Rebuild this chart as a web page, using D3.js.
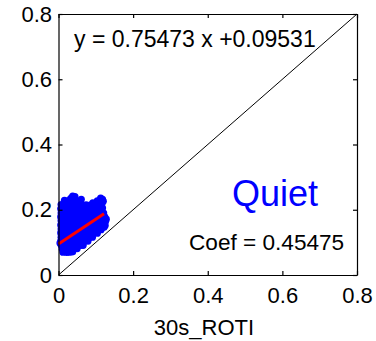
<!DOCTYPE html>
<html>
<head>
<meta charset="utf-8">
<script src="https://cdn.jsdelivr.net/npm/d3@7/dist/d3.min.js"></script>
<style>
  html, body { margin: 0; padding: 0; background: #fff; }
  svg { display: block; }
  text { font-family: "Liberation Sans", Arial, sans-serif; fill: #000; }
</style>
</head>
<body>
<svg id="chart" width="376" height="341"></svg>
<script>
// 30 s ROTI samples (x) against the compared index (y), quiet period
const roti30 = [
  0.038, 0.044, 0.113, 0.118,
  0.016, 0.027, 0.037, 0.047, 0.055, 0.104, 0.114, 0.120,
  0.007, 0.018, 0.030, 0.041, 0.052, 0.063, 0.074, 0.085, 0.095, 0.106, 0.116,
  0.006, 0.017, 0.028, 0.039, 0.050, 0.061, 0.072, 0.083, 0.094, 0.105, 0.118,
  0.007, 0.018, 0.029, 0.040, 0.051, 0.062, 0.073, 0.084, 0.095, 0.106, 0.121,
  0.006, 0.017, 0.028, 0.039, 0.050, 0.061, 0.072, 0.083, 0.094, 0.105, 0.116, 0.124,
  0.007, 0.018, 0.029, 0.040, 0.051, 0.062, 0.073, 0.084, 0.095, 0.106, 0.117, 0.126,
  0.006, 0.017, 0.028, 0.039, 0.050, 0.061, 0.072, 0.083, 0.094, 0.105, 0.116, 0.125,
  0.007, 0.018, 0.029, 0.040, 0.051, 0.062, 0.073, 0.084, 0.095, 0.105, 0.114,
  0.006, 0.017, 0.028, 0.039, 0.050, 0.061, 0.072, 0.083, 0.094, 0.104,
  0.007, 0.018, 0.029, 0.040, 0.051, 0.062, 0.073, 0.083, 0.091,
  0.006, 0.017, 0.028, 0.039, 0.050, 0.061, 0.071, 0.079,
  0.007, 0.018, 0.029, 0.040, 0.051, 0.060, 0.066,
  0.010, 0.020, 0.031, 0.042, 0.050,
  0.012, 0.022, 0.030, 0.038,
  0.033, 0.061, 0.092, 0.128, 0.122, 0.004
];
const quietIndex = [
  0.242, 0.240, 0.236, 0.232,
  0.229, 0.228, 0.228, 0.226, 0.225, 0.227, 0.229, 0.226,
  0.216, 0.215, 0.216, 0.214, 0.215, 0.216, 0.215, 0.214, 0.215, 0.216, 0.217,
  0.203, 0.202, 0.204, 0.203, 0.202, 0.203, 0.204, 0.202, 0.203, 0.204, 0.205,
  0.190, 0.191, 0.190, 0.189, 0.190, 0.191, 0.190, 0.189, 0.190, 0.191, 0.190,
  0.178, 0.177, 0.178, 0.179, 0.178, 0.177, 0.178, 0.179, 0.178, 0.177, 0.178, 0.178,
  0.166, 0.165, 0.166, 0.167, 0.166, 0.165, 0.166, 0.167, 0.166, 0.165, 0.166, 0.165,
  0.153, 0.154, 0.153, 0.152, 0.153, 0.154, 0.153, 0.152, 0.153, 0.154, 0.152, 0.152,
  0.141, 0.140, 0.141, 0.142, 0.141, 0.140, 0.141, 0.142, 0.141, 0.140, 0.139,
  0.129, 0.128, 0.129, 0.130, 0.129, 0.128, 0.129, 0.130, 0.129, 0.128,
  0.116, 0.117, 0.116, 0.115, 0.116, 0.117, 0.116, 0.115, 0.116,
  0.104, 0.103, 0.104, 0.105, 0.104, 0.103, 0.104, 0.104,
  0.092, 0.091, 0.092, 0.093, 0.092, 0.091, 0.091,
  0.080, 0.079, 0.080, 0.081, 0.081,
  0.070, 0.069, 0.070, 0.071,
  0.235, 0.232, 0.221, 0.171, 0.146, 0.098
];

// least-squares fit reported on the chart
const fitSlope = 0.75473;
const fitIntercept = 0.09531;
const fitRange = [0, 0.122];
const coefValue = 0.45475;

const tickValues = [0, 0.2, 0.4, 0.6, 0.8];
const tickLabels = ["0", "0.2", "0.4", "0.6", "0.8"];
const xTitle = "30s_ROTI";
const periodLabel = "Quiet";

const svg = d3.select("#chart");
const plotLeft = 58.5, plotRight = 357, plotTop = 14, plotBottom = 275;

const x = d3.scaleLinear().domain([0, 0.8]).range([plotLeft, plotRight]);
const y = d3.scaleLinear().domain([0, 0.8]).range([plotBottom, plotTop]);

// scatter points
svg.append("g")
  .selectAll("circle")
  .data(roti30.map((v, i) => [v, quietIndex[i]]))
  .join("circle")
  .attr("cx", d => x(d[0]))
  .attr("cy", d => y(d[1]))
  .attr("r", 3.6)
  .attr("fill", "#0000ff");

// regression line
svg.append("line")
  .attr("x1", x(fitRange[0]))
  .attr("y1", y(fitIntercept + fitSlope * fitRange[0]))
  .attr("x2", x(fitRange[1]))
  .attr("y2", y(fitIntercept + fitSlope * fitRange[1]))
  .attr("stroke", "#ff0000")
  .attr("stroke-width", 3);

// 1:1 reference line
svg.append("line")
  .attr("x1", x(0)).attr("y1", y(0))
  .attr("x2", x(0.8)).attr("y2", y(0.8))
  .attr("stroke", "#000")
  .attr("stroke-width", 1);

const fmt = (d) => tickLabels[tickValues.indexOf(d)];

// axes box with inward ticks
const axB = svg.append("g").attr("transform", `translate(0,${plotBottom})`)
  .call(d3.axisBottom(x).tickValues(tickValues).tickFormat(fmt)
    .tickSizeInner(-4).tickSizeOuter(0).tickPadding(12.5));
const axL = svg.append("g").attr("transform", `translate(${plotLeft},0)`)
  .call(d3.axisLeft(y).tickValues(tickValues).tickFormat(fmt)
    .tickSizeInner(-4).tickSizeOuter(0).tickPadding(6.5));
const axT = svg.append("g").attr("transform", `translate(0,${plotTop})`)
  .call(d3.axisTop(x).tickValues(tickValues).tickFormat("")
    .tickSizeInner(-4).tickSizeOuter(0));
const axR = svg.append("g").attr("transform", `translate(${plotRight},0)`)
  .call(d3.axisRight(y).tickValues(tickValues).tickFormat("")
    .tickSizeInner(-4).tickSizeOuter(0));

[axB, axL, axT, axR].forEach(g => {
  g.selectAll("path, line").attr("stroke", "#000").attr("stroke-width", 1.2);
  g.selectAll("text")
    .attr("fill", "#000")
    .style("font-family", "'Liberation Sans', Arial, sans-serif")
    .style("font-size", "22px");
});

// annotations
svg.append("text")
  .attr("x", 74).attr("y", 47)
  .style("font-size", "23px")
  .text(`y = ${fitSlope} x +${fitIntercept}`);

svg.append("text")
  .attr("x", 232).attr("y", 206)
  .style("font-size", "36px")
  .style("fill", "#0000ff")
  .text(periodLabel);

svg.append("text")
  .attr("x", 189).attr("y", 250)
  .style("font-size", "22.6px")
  .text(`Coef = ${coefValue}`);

svg.append("text")
  .attr("x", 204).attr("y", 335)
  .attr("text-anchor", "middle")
  .style("font-size", "22px")
  .text(xTitle);
</script>
</body>
</html>
